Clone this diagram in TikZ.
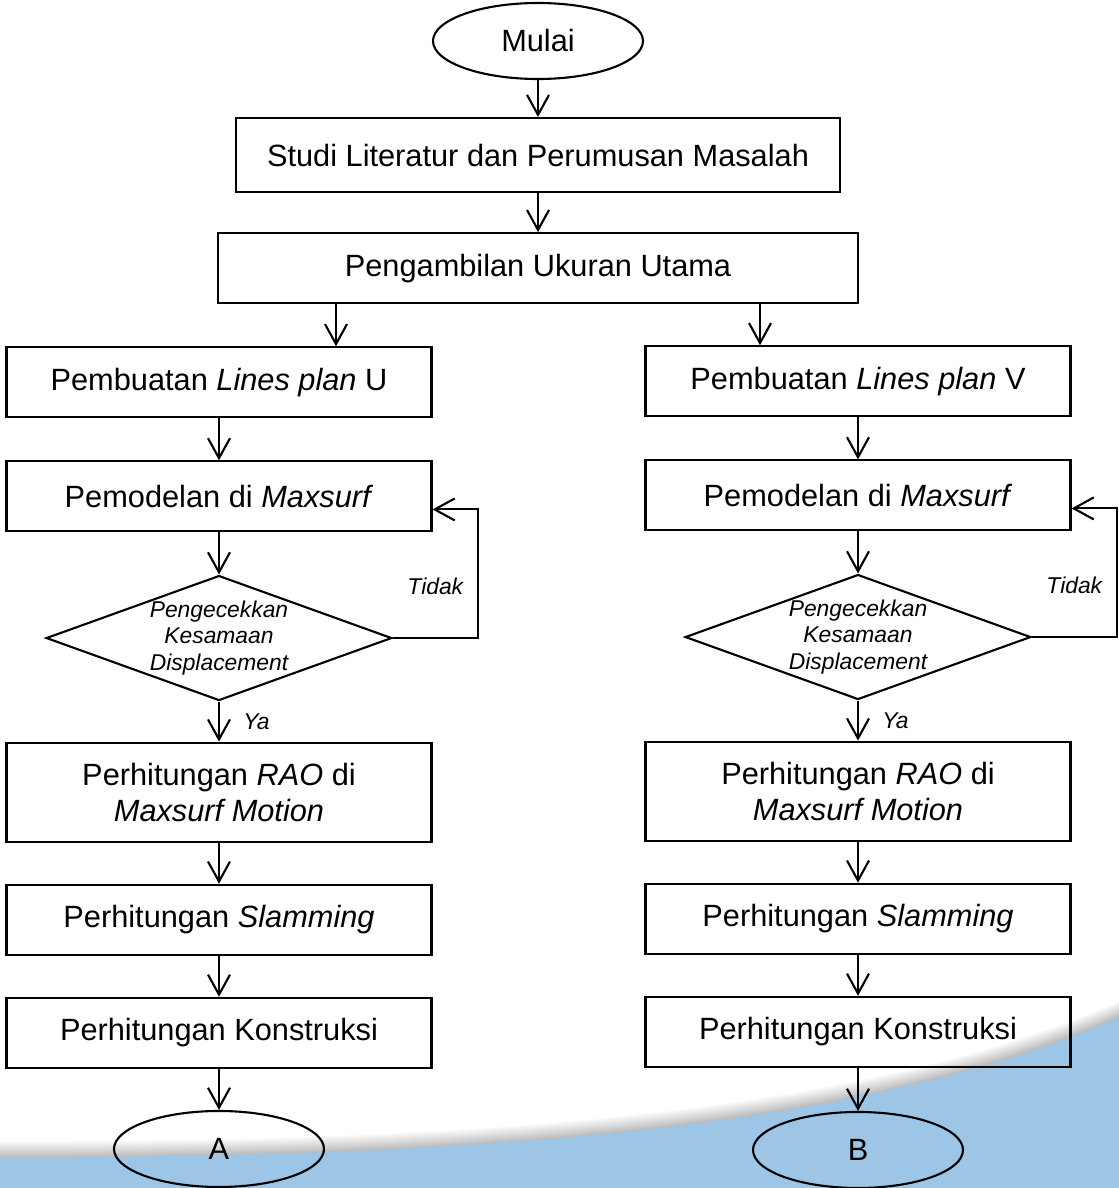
\documentclass[tikz,border=0pt]{standalone}
\usepackage{fontspec}
\setmainfont{Liberation Sans}
\usepackage{tikz}
\usetikzlibrary{shapes, arrows.meta, positioning}
\definecolor{seablue}{RGB}{157,198,230}
\tikzstyle{line} = [draw, -{Straight Barb[length=4mm,width=4.4mm]}, line width=1.2pt]
\tikzstyle{block} = [rectangle, draw, line width=1.2pt, minimum width=8.5cm,
  minimum height=1.4cm, align=center, font=\fontsize{17.5}{20.5}\selectfont]
\tikzstyle{terminal} = [ellipse, draw, line width=1.2pt, minimum width=4.2cm,
  minimum height=1.52cm, font=\fontsize{17.5}{20.5}\selectfont]
\tikzstyle{decision} = [diamond, draw, line width=1.2pt, aspect=2.8, inner sep=0pt,
  minimum height=2.5cm, align=center, font=\itshape\fontsize{13}{15}\selectfont]
\tikzstyle{note} = [font=\itshape\fontsize{13}{15}\selectfont]

\begin{document}
\begin{tikzpicture}[node distance=0.82cm, auto]
    \useasboundingbox (0,0) rectangle (22.38,-23.76);

    % background wave
    \begin{scope}[x=0.02cm, y=-0.02cm]
      \foreach \i [evaluate=\i as \s using 26-1.6*\i] in {15,14,...,0}
        \draw [line width=0.9pt, black!\s] (0,1157-\i) .. controls (450,1157-\i) and (850,1135-\i) .. (1119,1017-\i);
      \fill [seablue] (0,1157) .. controls (450,1157) and (850,1135) .. (1119,1017)
        -- (1119,1188) -- (0,1188) -- cycle;
    \end{scope}

    \node [terminal] (mulai) at (10.76,-0.82) {Mulai};
    \node [block, below=0.74cm of mulai, minimum width=12.08cm, minimum height=1.48cm] (studi) {Studi Literatur dan Perumusan Masalah};
    \node [block, below=0.78cm of studi, minimum width=12.8cm] (ukuran) {Pengambilan Ukuran Utama};

    % kolom U
    \node [block, below=0.84cm of ukuran.south, xshift=-6.38cm] (linesU) {Pembuatan \textit{Lines plan} U};
    \node [block, below=0.84cm of linesU] (pemU) {Pemodelan di \textit{Maxsurf}};
    \node [decision, below=0.84cm of pemU] (cekU) {Pengecekkan\\Kesamaan\\Displacement};
    \node [block, below=0.8cm of cekU, minimum height=1.98cm] (raoU) {Perhitungan \textit{RAO} di\\\textit{Maxsurf Motion}};
    \node [block, below=of raoU] (slamU) {Perhitungan \textit{Slamming}};
    \node [block, below=of slamU] (konsU) {Perhitungan Konstruksi};
    \node [terminal, below=of konsU] (hasilA) {A};

    % kolom V
    \node [block, below=0.82cm of ukuran.south, xshift=6.4cm] (linesV) {Pembuatan \textit{Lines plan} V};
    \node [block, below=0.84cm of linesV] (pemV) {Pemodelan di \textit{Maxsurf}};
    \node [decision, below=0.84cm of pemV] (cekV) {Pengecekkan\\Kesamaan\\Displacement};
    \node [block, below=0.8cm of cekV, minimum height=1.98cm] (raoV) {Perhitungan \textit{RAO} di\\\textit{Maxsurf Motion}};
    \node [block, below=of raoV] (slamV) {Perhitungan \textit{Slamming}};
    \node [block, below=of slamV] (konsV) {Perhitungan Konstruksi};
    \node [terminal, below=0.86cm of konsV] (hasilB) {B};

    \path [line] (mulai) -- (studi);
    \path [line] (studi) -- (ukuran);
    \path [line] ([xshift=-4.04cm]ukuran.south) -- ([xshift=-4.04cm]ukuran.south |- linesU.north);
    \path [line] ([xshift=4.44cm]ukuran.south) -- ([xshift=4.44cm]ukuran.south |- linesV.north);

    \path [line] (linesU) -- (pemU);
    \path [line] (pemU) -- (cekU);
    \path [line] (cekU) -- node [note, right=0.35cm] (yaU) {Ya} (raoU);
    \path [line] (cekU.east) -| node [note, pos=0.7, left=0.15cm] (tidakU) {Tidak}
      ([xshift=0.9cm, yshift=-0.26cm]pemU.east) -- ([yshift=-0.26cm]pemU.east);
    \path [line] (raoU) -- (slamU);
    \path [line] (slamU) -- (konsU);
    \path [line] (konsU) -- (hasilA);

    \path [line] (linesV) -- (pemV);
    \path [line] (pemV) -- (cekV);
    \path [line] (cekV) -- node [note, right=0.35cm] (yaV) {Ya} (raoV);
    \path [line] (cekV.east) -| node [note, pos=0.7, left=0.15cm] (tidakV) {Tidak}
      ([xshift=0.9cm, yshift=-0.26cm]pemV.east) -- ([yshift=-0.26cm]pemV.east);
    \path [line] (raoV) -- (slamV);
    \path [line] (slamV) -- (konsV);
    \path [line] (konsV) -- (hasilB);

  \end{tikzpicture}
\end{document}
